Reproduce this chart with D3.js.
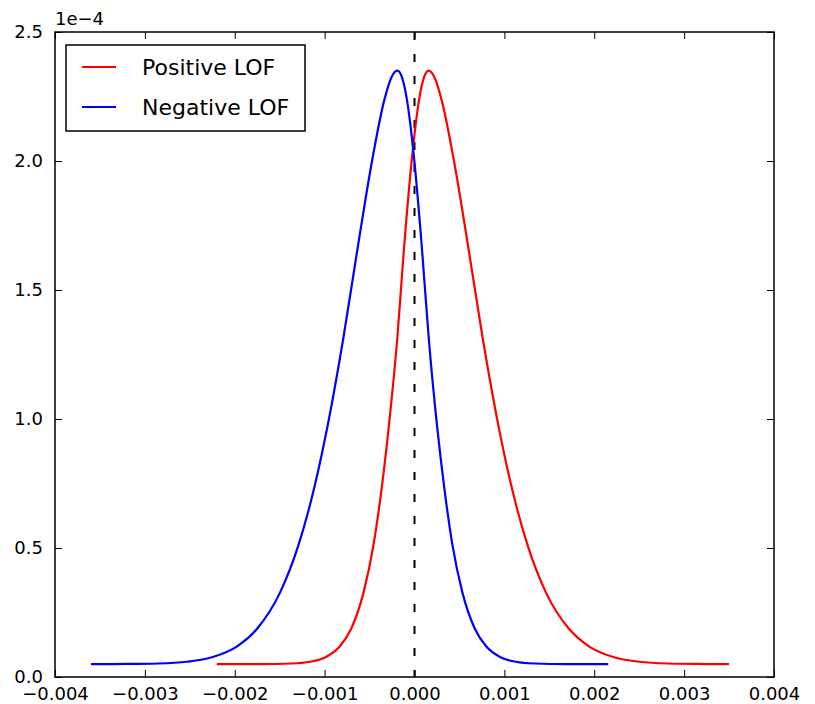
<!DOCTYPE html>
<html>
<head>
<meta charset="utf-8">
<script src="https://cdn.jsdelivr.net/npm/d3@7"></script>
<style>
  body { margin: 0; background: #fff; }
  text { font-family: "DejaVu Sans", sans-serif; fill: #000; }
</style>
</head>
<body>
<svg id="chart" width="815" height="704"></svg>
<script>
// curve values, x in raw units, y in units of 1e-4
const posX = [-0.00220, -0.00172, -0.001367, -0.001159, -0.000984, -0.000830, -0.000703, -0.000568, -0.000457, -0.000362,
              -0.000286, -0.000191, -0.000117, -0.000030, 0.000050, 0.000105, 0.000156, 0.000222, 0.000303, 0.000437,
              0.000601, 0.000758, 0.000936, 0.001078, 0.001259, 0.001464, 0.001716, 0.001941, 0.002211, 0.002500,
              0.002822, 0.003167, 0.003500];
const posY = [0.050, 0.050, 0.0523, 0.0592, 0.0776, 0.119, 0.188, 0.326, 0.510, 0.740,
              0.970, 1.315, 1.660, 2.005, 2.235, 2.323, 2.350, 2.325, 2.235, 2.005,
              1.660, 1.315, 0.970, 0.740, 0.510, 0.326, 0.188, 0.119, 0.0776, 0.0592,
              0.0523, 0.0505, 0.050];

const negX = [-0.003600, -0.003200, -0.002856, -0.002533, -0.002244, -0.001974, -0.001749, -0.001498, -0.001292, -0.001111,
              -0.000969, -0.000791, -0.000634, -0.000470, -0.000337, -0.000256, -0.000189, -0.000138, -0.000083, -0.000003,
              0.000083, 0.000158, 0.000252, 0.000329, 0.000423, 0.000534, 0.000670, 0.000797, 0.000951, 0.001126,
              0.001333, 0.001689, 0.002156];
const negY = [0.050, 0.0505, 0.0523, 0.0592, 0.0776, 0.119, 0.188, 0.326, 0.510, 0.740,
              0.970, 1.315, 1.660, 2.005, 2.235, 2.325, 2.350, 2.323, 2.235, 2.005,
              1.660, 1.315, 0.970, 0.740, 0.510, 0.326, 0.188, 0.119, 0.0776, 0.0592,
              0.0523, 0.050, 0.050];

const xTicks = [-0.004, -0.003, -0.002, -0.001, 0, 0.001, 0.002, 0.003, 0.004];
const yTicks = [0, 0.5, 1.0, 1.5, 2.0, 2.5];
const seriesNames = ["Positive LOF", "Negative LOF"];
const seriesColors = ["#ff0000", "#0000ff"];

const margin = {left: 55, top: 32, right: 41, bottom: 27};
const W = 815, H = 704;
const iw = W - margin.left - margin.right;
const ih = H - margin.top - margin.bottom;

const svg = d3.select("#chart");
const g = svg.append("g").attr("transform", `translate(${margin.left},${margin.top})`);

const x = d3.scaleLinear().domain([-0.004, 0.004]).range([0, iw]);
const y = d3.scaleLinear().domain([0, 2.5]).range([ih, 0]);

const fmtX = d => d3.format(".3f")(d).replace("-", "\u2212");
const fmtY = d3.format(".1f");

// curves
const line = d3.line()
    .x(d => x(d[0]))
    .y(d => y(d[1]))
    .curve(d3.curveMonotoneX);

const series = [
    d3.zip(posX, posY),
    d3.zip(negX, negY)
];

// zero line
g.append("line")
    .attr("x1", x(0)).attr("x2", x(0))
    .attr("y1", 0).attr("y2", ih)
    .attr("stroke", "#000")
    .attr("stroke-width", 2)
    .attr("stroke-dasharray", "8,14");

series.forEach((s, i) => {
    g.append("path")
        .datum(s)
        .attr("d", line)
        .attr("fill", "none")
        .attr("stroke", seriesColors[i])
        .attr("stroke-width", 2.2);
});

// axes, ticks inward on every side
const tickLen = 7;
const axB = d3.axisBottom(x).tickValues(xTicks).tickSizeInner(-tickLen).tickSizeOuter(0).tickPadding(10).tickFormat(fmtX);
const axT = d3.axisTop(x).tickValues(xTicks).tickSizeInner(-tickLen).tickSizeOuter(0).tickFormat("");
const axL = d3.axisLeft(y).tickValues(yTicks).tickSizeInner(-tickLen).tickSizeOuter(0).tickPadding(12).tickFormat(fmtY);
const axR = d3.axisRight(y).tickValues(yTicks).tickSizeInner(-tickLen).tickSizeOuter(0).tickFormat("");

g.append("g").attr("transform", `translate(0,${ih})`).call(axB);
g.append("g").call(axT);
g.append("g").call(axL);
g.append("g").attr("transform", `translate(${iw},0)`).call(axR);

g.selectAll(".domain").remove();
g.selectAll(".tick line").attr("stroke", "#000").attr("stroke-width", 1);
g.selectAll(".tick text")
    .style("font-family", "DejaVu Sans, sans-serif")
    .style("font-size", "18px")
    .attr("fill", "#000");

// frame
g.append("rect")
    .attr("width", iw).attr("height", ih)
    .attr("fill", "none")
    .attr("stroke", "#000")
    .attr("stroke-width", 1.5);

// offset text
g.append("text")
    .attr("x", 0).attr("y", -7)
    .style("font-size", "18px")
    .text("1e\u22124");

// legend
const leg = g.append("g").attr("transform", "translate(11,13)");
leg.append("rect")
    .attr("width", 239).attr("height", 86)
    .attr("fill", "#fff")
    .attr("stroke", "#000")
    .attr("stroke-width", 1.5);

seriesNames.forEach((name, i) => {
    const yy = 22 + i * 40;
    leg.append("line")
        .attr("x1", 16).attr("x2", 50)
        .attr("y1", yy).attr("y2", yy)
        .attr("stroke", seriesColors[i])
        .attr("stroke-width", 2.2);
    leg.append("text")
        .attr("x", 76).attr("y", yy + 8)
        .style("font-size", "22px")
        .text(name);
});
</script>
</body>
</html>
